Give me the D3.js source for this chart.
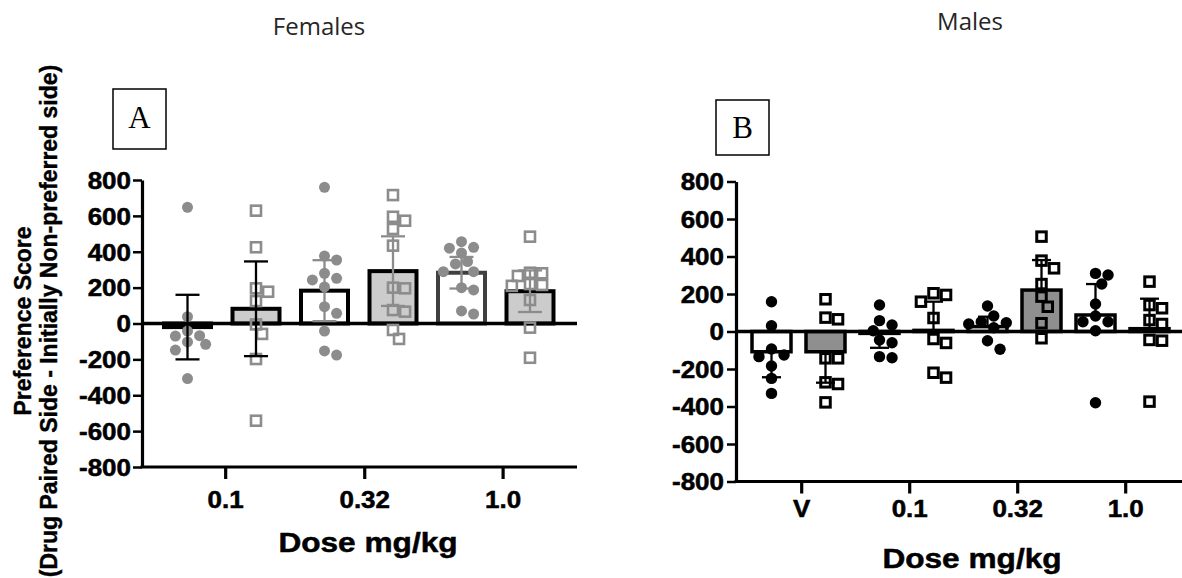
<!DOCTYPE html>
<html><head><meta charset="utf-8">
<script src="https://cdn.jsdelivr.net/npm/d3@7"></script>
<style>body{margin:0;background:#fff}svg{display:block}</style>
</head><body><svg id="c" width="1182" height="578"></svg>
<script>
// ---------- data ----------
const yTickValues = [800,600,400,200,0,-200,-400,-600,-800];
const femaleTickLabels = ["0.1","0.32","1.0"];
const maleTickLabels = ["V","0.1","0.32","1.0"];

const femaleMeans = [-20, 82, 183, 292, 283, 180];
const femaleSD    = [180, 264, 170, 194, 88, 116];
const femalePoints = [
  [648, 38, -42, -68, -70, -103, -116, -148, -307],
  [629, 425, 196, 177, 125, -5, -58, -198, -542],
  [759, 376, 354, 280, 252, 243, 204, 94, 57, -42, -153, -176],
  [716, 595, 573, 527, 434, 200, 196, 75, 66, -36, -86],
  [456, 425, 420, 393, 345, 332, 289, 289, 200, 187, 70, 53],
  [484, 283, 280, 265, 220, 215, 210, 131, -23, -191]
];

const maleMeans = [-108, -108, -10, 6, 26, 221, 88, 15];
const maleSD    = [136, 165, 77, 153, 53, 160, 165, 160];
const malePoints = [
  [159, 31, -93, -125, -134, -184, -250, -330],
  [172, 74, 65, -143, -143, -271, -280, -378],
  [141, 58, 35, 4, -45, -60, -134, -140],
  [204, 195, 159, 72, -40, -61, -220, -246],
  [136, 83, 52, 47, 40, 20, -49, -95],
  [506, 378, 337, 253, 186, 132, 44, -36],
  [310, 301, 253, 147, 83, 52, 52, 4, -380],
  [266, 141, 124, 61, 40, -45, -49, -374]
];

// ---------- drawing ----------
const svg = d3.select("#c");
const SX = 1.13; // horizontal stretch of the bold labels
const boldFont = "'Liberation Sans', Arial, sans-serif";

function heavy(sel) {
  return sel.style("font-family", boldFont).style("font-weight", "bold")
    .attr("fill", "#000").attr("stroke", "#000").attr("stroke-width", 0.5);
}

function swarm(vals, cx, y, r, maxHalf) {
  const placed = [];
  const order = vals.map((v,i)=>({v,i})).sort((a,b)=>b.v-a.v);
  const out = new Array(vals.length);
  const step = r * 1.1;
  order.forEach(o => {
    const py = y(o.v);
    let best = null;
    for (let k = 0; k < 40; k++) {
      const m = Math.ceil(k/2) * (k % 2 ? 1 : -1);
      const px = cx + m * step;
      if (Math.abs(px - cx) > maxHalf) continue;
      const ok = placed.every(p => (p.x-px)**2 + (p.y-py)**2 >= (2*r*0.95)**2);
      if (ok) { best = px; break; }
    }
    if (best === null) best = cx;
    placed.push({x:best, y:py});
    out[o.i] = {x:best, y:py, v:o.v};
  });
  return out;
}

function panel(cfg) {
  const g = svg.append("g");
  const y = d3.scaleLinear().domain([-800,800]).range([cfg.yBottom, cfg.yTop]);
  const x = d3.scaleLinear().domain([0, cfg.means.length-1]).range([cfg.x0, cfg.x1]);
  const zero = y(0);

  // bars
  cfg.means.forEach((m,i) => {
    g.append("rect")
      .attr("x", x(i) - cfg.barW/2)
      .attr("y", Math.min(y(m), zero))
      .attr("width", cfg.barW)
      .attr("height", Math.abs(y(m) - zero))
      .attr("fill", cfg.barFill[i])
      .attr("stroke", cfg.barStroke[i])
      .attr("stroke-width", cfg.barSW);
  });

  // zero line
  g.append("line").attr("x1", cfg.axisX).attr("x2", cfg.axisEnd)
    .attr("y1", zero).attr("y2", zero).attr("stroke", "#000").attr("stroke-width", 3.5);

  // points
  cfg.points.forEach((vals,i) => {
    const pts = swarm(vals, x(i), y, cfg.r, cfg.barW/2 + 2);
    pts.forEach(p => {
      if (i % 2 === 0) {
        g.append("circle").attr("cx", p.x).attr("cy", p.y).attr("r", cfg.r)
          .attr("fill", cfg.ptColor);
      } else {
        const s = cfg.sq;
        g.append("rect").attr("x", p.x - s/2).attr("y", p.y - s/2)
          .attr("width", s).attr("height", s).attr("fill", "none")
          .attr("stroke", cfg.ptColor).attr("stroke-width", cfg.sqSW);
      }
    });
  });

  // error bars
  cfg.means.forEach((m,i) => {
    const sd = cfg.sd[i], cx = x(i), c = cfg.errColor[i];
    const e = g.append("g").attr("stroke", c).attr("stroke-width", 2.3);
    let ends;
    if (cfg.bothWays) ends = [m+sd, m-sd];
    else ends = [m >= 0 ? m+sd : m-sd];
    const lo = cfg.bothWays ? m-sd : m;
    const hi = cfg.bothWays ? m+sd : ends[0];
    e.append("line").attr("x1", cx).attr("x2", cx).attr("y1", y(lo)).attr("y2", y(hi));
    ends.forEach(v => e.append("line")
      .attr("x1", cx - cfg.capW/2).attr("x2", cx + cfg.capW/2)
      .attr("y1", y(v)).attr("y2", y(v)));
  });

  // y axis
  const ya = g.append("g").attr("transform", `translate(${cfg.axisX},0)`)
    .call(d3.axisLeft(y).tickValues(yTickValues).tickSize(9).tickSizeOuter(0)
      .tickFormat(d => String(d)));
  ya.select(".domain").attr("stroke-width", 3.2);
  ya.selectAll(".tick line").attr("stroke-width", 2.5);
  heavy(ya.selectAll(".tick text")
    .attr("x", -cfg.yLabGap / SX).attr("dy", "0.36em")
    .attr("transform", `scale(${SX},1)`)
    .style("font-size", "23px"));

  // x axis
  g.append("line").attr("x1", cfg.axisX - 1.5).attr("x2", cfg.axisEnd)
    .attr("y1", cfg.yBottom).attr("y2", cfg.yBottom)
    .attr("stroke", "#000").attr("stroke-width", 3.2);
  const xa = g.append("g").attr("transform", `translate(0,${cfg.yBottom})`)
    .call(d3.axisBottom(x).tickValues(cfg.tickPos).tickSize(12).tickSizeOuter(0)
      .tickFormat((d,i) => cfg.tickLabels[i]));
  xa.select(".domain").remove();
  xa.selectAll(".tick line").attr("stroke-width", 3.2);
  heavy(xa.selectAll(".tick text")
    .attr("x", 0).attr("y", cfg.xLabY).attr("dy", 0)
    .attr("transform", `scale(${SX},1)`)
    .style("font-size", "23px"));

  // x title
  heavy(svg.append("text").attr("transform", `translate(${cfg.xTitleX},${cfg.xTitleY}) scale(${SX},1)`)
    .attr("text-anchor", "middle").style("font-size", "28px").text("Dose mg/kg"));

  // panel title
  svg.append("text").attr("x", cfg.titleX).attr("y", cfg.titleY)
    .attr("text-anchor", "middle").style("font-family", "'Open Sans', sans-serif")
    .style("font-weight", 400).style("font-size", "24px").attr("fill", "#262626")
    .text(cfg.title);

  // letter box
  svg.append("rect").attr("x", cfg.box[0]).attr("y", cfg.box[1])
    .attr("width", cfg.box[2]).attr("height", cfg.box[3])
    .attr("fill", "#fff").attr("stroke", "#000").attr("stroke-width", 1.5);
  svg.append("text").attr("x", cfg.box[0] + cfg.box[2]/2).attr("y", cfg.letterY)
    .attr("text-anchor", "middle")
    .style("font-family", "'Liberation Serif', 'Times New Roman', serif")
    .style("font-size", "31px").text(cfg.letter);
}

panel({
  means: femaleMeans, sd: femaleSD, points: femalePoints, bothWays: true,
  yTop: 180, yBottom: 467, x0: 187.5, x1: 530, barW: 47,
  axisX: 142, axisEnd: 577, yLabGap: 11,
  barFill: ["#fff","#cccccc","#fff","#cccccc","#fff","#cccccc"],
  barStroke: ["#000","#000","#000","#000","#404040","#000"],
  barSW: 4,
  errColor: ["#000","#000","#8c8c8c","#8c8c8c","#8c8c8c","#8c8c8c"],
  capW: 24, r: 5.5, sq: 10, sqSW: 2.6, ptColor: "#8c8c8c",
  tickPos: [0.55, 2.58, 4.6], tickLabels: femaleTickLabels, xLabY: 41,
  xTitleX: 368, xTitleY: 552, title: "Females", titleX: 319, titleY: 35,
  box: [113, 89, 53, 60], letter: "A", letterY: 128
});

panel({
  means: maleMeans, sd: maleSD, points: malePoints, bothWays: false,
  yTop: 181.5, yBottom: 481.5, x0: 771.5, x1: 1149.5, barW: 39,
  axisX: 736, axisEnd: 1182, yLabGap: 12,
  barFill: ["#fff","#8f8f8f","#fff","#8f8f8f","#fff","#8f8f8f","#fff","#8f8f8f"],
  barStroke: Array(8).fill("#000"),
  barSW: 3.5,
  errColor: Array(8).fill("#000"),
  capW: 19, r: 5.7, sq: 9.5, sqSW: 3, ptColor: "#000",
  tickPos: [0.55, 2.55, 4.55, 6.55], tickLabels: maleTickLabels, xLabY: 36,
  xTitleX: 972, xTitleY: 568, title: "Males", titleX: 970, titleY: 30,
  box: [716, 100, 53, 55], letter: "B", letterY: 138
});

// y-axis title (panel A)
const yt = heavy(svg.append("g")).attr("stroke-width", 0.4).style("font-size", "23px");
yt.append("text").attr("transform", "translate(31,321) rotate(-90)")
  .attr("text-anchor", "middle").text("Preference Score");
yt.append("text").attr("transform", "translate(57,321) rotate(-90)")
  .attr("text-anchor", "middle").text("(Drug Paired Side - Initially Non-preferred side)");
</script></body></html>
